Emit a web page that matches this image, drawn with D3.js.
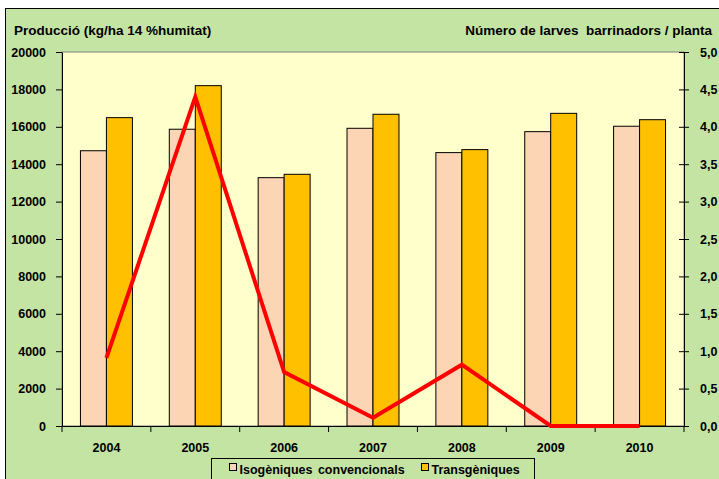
<!DOCTYPE html>
<html>
<head>
<meta charset="utf-8">
<script src="https://cdn.jsdelivr.net/npm/d3@7"></script>
<style>
  body { margin: 0; background: #fff; }
  svg text { font-family: "Liberation Sans", Arial, sans-serif; font-weight: bold; fill: #000; }
</style>
</head>
<body>
<div id="viz"></div>
<script>
const years = ['2004', '2005', '2006', '2007', '2008', '2009', '2010'];
const isogeniques = [14720, 15870, 13280, 15920, 14620, 15740, 16030];
const transgeniques = [16490, 18200, 13460, 16670, 14780, 16720, 16380];
const larves = [0.91, 4.40, 0.72, 0.11, 0.82, 0.0, 0.0];
const leftTicks = [0, 2000, 4000, 6000, 8000, 10000, 12000, 14000, 16000, 18000, 20000];
const rightTicks = [0, 0.5, 1, 1.5, 2, 2.5, 3, 3.5, 4, 4.5, 5];
const seriesNames = ['Isogèniques convencionals', 'Transgèniques'];
const seriesColors = ['#FCD5B5', '#FFC000'];

const width = 719, height = 479;
const plotLeft = 62, plotRight = 684, plotTop = 52, plotBottom = 426;

const svg = d3.select('#viz').append('svg')
    .attr('width', width)
    .attr('height', height);

// outer chart area
svg.append('rect')
    .attr('x', 5.5).attr('y', 8.5)
    .attr('width', width).attr('height', height)
    .attr('fill', '#C4E4A4')
    .attr('stroke', '#000').attr('stroke-width', 1);

// plot area
svg.append('rect')
    .attr('x', plotLeft).attr('y', plotTop)
    .attr('width', plotRight - plotLeft).attr('height', plotBottom - plotTop)
    .attr('fill', '#FFFFCC')
    .attr('stroke', '#808080').attr('stroke-width', 1);

const x = d3.scaleBand().domain(years).range([plotLeft, plotRight]);
const xInner = d3.scaleBand().domain([0, 1]).range([0, x.bandwidth()]).paddingInner(0).paddingOuter(0.71);
const yLeft = d3.scaleLinear().domain([0, 20000]).range([plotBottom, plotTop]);
const yRight = d3.scaleLinear().domain([0, 5]).range([plotBottom, plotTop]);

const groups = svg.selectAll('g.year')
    .data(years.map((y, i) => ({ year: y, vals: [isogeniques[i], transgeniques[i]] })))
    .enter().append('g')
    .attr('class', 'year')
    .attr('transform', d => 'translate(' + x(d.year) + ',0)');

groups.selectAll('rect')
    .data(d => d.vals)
    .enter().append('rect')
    .attr('x', (d, i) => xInner(i))
    .attr('y', d => yLeft(d))
    .attr('width', xInner.bandwidth())
    .attr('height', d => plotBottom - yLeft(d))
    .attr('fill', (d, i) => seriesColors[i])
    .attr('stroke', '#000')
    .attr('stroke-width', 1);

// axes
const xAxis = d3.axisBottom(x).tickSize(0).tickPadding(17);
const gx = svg.append('g')
    .attr('transform', 'translate(0,' + plotBottom + ')')
    .call(xAxis);
gx.selectAll('text').style('font-size', '12.5px');
gx.select('.domain').attr('stroke', '#000');
// tick marks between categories
gx.selectAll('line.sep')
    .data(d3.range(years.length + 1))
    .enter().append('line')
    .attr('class', 'sep')
    .attr('x1', i => plotLeft + i * x.step())
    .attr('x2', i => plotLeft + i * x.step())
    .attr('y1', 0).attr('y2', 6)
    .attr('stroke', '#000');

const gl = svg.append('g')
    .attr('transform', 'translate(' + plotLeft + ',0)')
    .call(d3.axisLeft(yLeft).tickValues(leftTicks).tickSize(6).tickSizeOuter(0).tickPadding(10).tickFormat(d3.format('d')));
gl.selectAll('text').style('font-size', '12.5px');
gl.selectAll('.tick line').attr('x2', 0).attr('x1', -6);

const gr = svg.append('g')
    .attr('transform', 'translate(' + plotRight + ',0)')
    .call(d3.axisRight(yRight).tickValues(rightTicks).tickSize(6).tickSizeOuter(0).tickPadding(10)
        .tickFormat(d => d3.format('.1f')(d).replace('.', ',')));
gr.selectAll('text').style('font-size', '12.5px');
gr.selectAll('.tick line').attr('x1', -5).attr('x2', 5);

// line series
const line = d3.line()
    .x((d, i) => x(years[i]) + x.bandwidth() / 2)
    .y(d => yRight(d));
svg.append('path')
    .datum(larves)
    .attr('d', line)
    .attr('fill', 'none')
    .attr('stroke', '#FF0000')
    .attr('stroke-width', 4)
    .attr('stroke-linejoin', 'miter');

// titles
svg.append('text')
    .attr('x', 14).attr('y', 35)
    .style('font-size', '13.5px')
    .text('Producció (kg/ha 14 %humitat)');
svg.append('text')
    .attr('x', 712).attr('y', 35)
    .attr('text-anchor', 'end')
    .style('font-size', '13.5px')
    .style('white-space', 'pre')
    .text('Número de larves  barrinadors / planta');

// legend
const legend = svg.append('g').attr('transform', 'translate(211.5,458.5)');
legend.append('rect')
    .attr('width', 323).attr('height', 40)
    .attr('fill', '#C4E4A4')
    .attr('stroke', '#000');
const legendX = [18, 210];
legend.selectAll('rect.key')
    .data(seriesNames)
    .enter().append('rect')
    .attr('class', 'key')
    .attr('x', (d, i) => legendX[i])
    .attr('y', 5)
    .attr('width', 7).attr('height', 7)
    .attr('fill', (d, i) => seriesColors[i])
    .attr('stroke', '#000');
legend.selectAll('text.key')
    .data(seriesNames)
    .enter().append('text')
    .attr('class', 'key')
    .attr('x', (d, i) => legendX[i] + 10)
    .attr('y', 15)
    .style('font-size', '12.5px')
    .style('word-spacing', '2px')
    .text(d => d);
</script>
</body>
</html>
